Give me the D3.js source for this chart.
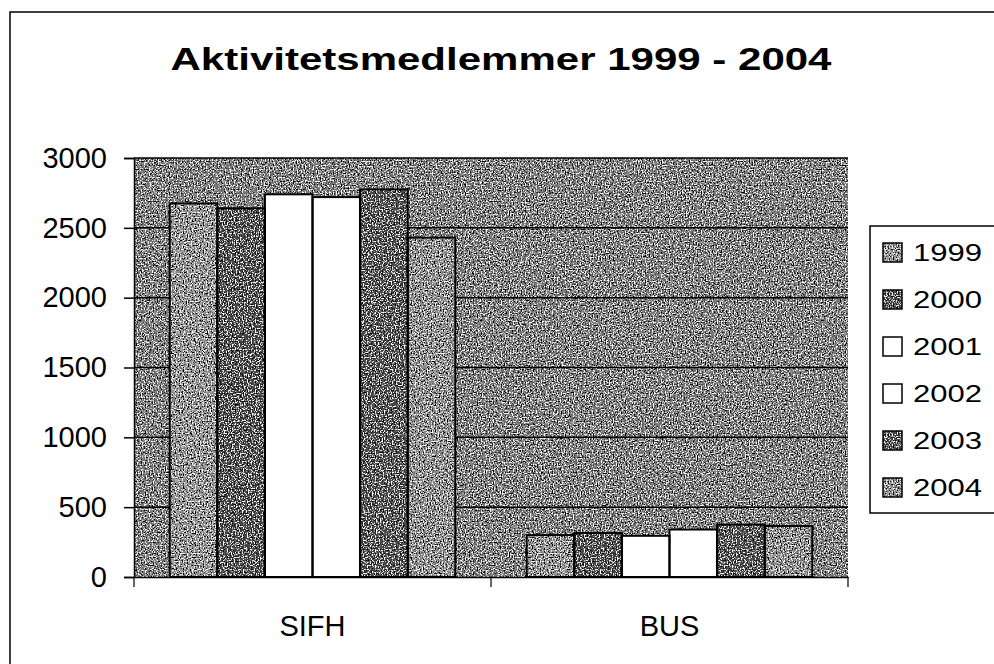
<!DOCTYPE html>
<html>
<head>
<meta charset="utf-8">
<script src="https://cdn.jsdelivr.net/npm/d3@7"></script>
<style>
  body { margin: 0; background: #fff; }
  text { font-family: "Liberation Sans", Arial, sans-serif; fill: #000; }
</style>
</head>
<body>
<div id="chart"></div>
<script>
// Data
var categories = ["SIFH", "BUS"];
var years = ["1999", "2000", "2001", "2002", "2003", "2004"];
var sifhValues = [2675, 2640, 2740, 2720, 2775, 2430];
var busValues = [300, 315, 295, 340, 375, 365];
var yTicks = [0, 500, 1000, 1500, 2000, 2500, 3000];

var seriesValues = { "SIFH": sifhValues, "BUS": busValues };

// Year fills (scanned greys)
var yearColor = d3.scaleOrdinal()
	.domain(years)
	.range(["#929292", "#4a4a4a", "#ffffff", "#ffffff", "#4e4e4e", "#8c8c8c"]);
var grainy = { "1999": true, "2000": true, "2001": false, "2002": false, "2003": true, "2004": true };

var width = 994, height = 664;
var plot = { left: 134, right: 848, top: 158, bottom: 577 };

var svg = d3.select("#chart").append("svg")
	.attr("width", width)
	.attr("height", height);

// grain filter to imitate the dithered scan
var defs = svg.append("defs");
var grain = defs.append("filter").attr("id", "grain")
	.attr("x", 0).attr("y", 0).attr("width", "100%").attr("height", "100%");
grain.append("feTurbulence")
	.attr("type", "fractalNoise").attr("baseFrequency", 0.75)
	.attr("numOctaves", 1).attr("seed", 4).attr("result", "noise");
grain.append("feColorMatrix").attr("in", "noise").attr("type", "matrix")
	.attr("values", "0 0 0 0 0  0 0 0 0 0  0 0 0 0 0  9 0 0 0 -4.8")
	.attr("result", "darkDots");
grain.append("feColorMatrix").attr("in", "noise").attr("type", "matrix")
	.attr("values", "0 0 0 0 1  0 0 0 0 1  0 0 0 0 1  -9 0 0 0 4.2")
	.attr("result", "lightDots");
grain.append("feComposite").attr("in", "darkDots").attr("in2", "SourceGraphic")
	.attr("operator", "in").attr("result", "dark");
grain.append("feComposite").attr("in", "lightDots").attr("in2", "SourceGraphic")
	.attr("operator", "in").attr("result", "light");
var merge = grain.append("feMerge");
merge.append("feMergeNode").attr("in", "SourceGraphic");
merge.append("feMergeNode").attr("in", "dark");
merge.append("feMergeNode").attr("in", "light");

// outer chart frame (runs off the right/bottom of the scan)
svg.append("rect")
	.attr("x", 10).attr("y", 12)
	.attr("width", 1100).attr("height", 800)
	.style("fill", "none").style("stroke", "#000").style("stroke-width", 1.5);

// Title
svg.append("text")
	.attr("x", 501).attr("y", 70)
	.attr("text-anchor", "middle")
	.attr("textLength", 661).attr("lengthAdjust", "spacingAndGlyphs")
	.style("font-size", "31px").style("font-weight", 700)
	.text("Aktivitetsmedlemmer 1999 - 2004");

// Scales
var x0 = d3.scaleBand().domain(categories).range([plot.left, plot.right]);
var gap = x0.bandwidth() * 0.2;
var x1 = d3.scaleBand().domain(years).range([gap / 2, x0.bandwidth() - gap / 2]);
var y = d3.scaleLinear().domain([0, 3000]).range([plot.bottom, plot.top]);

// Plot area
svg.append("rect")
	.attr("x", plot.left).attr("y", plot.top)
	.attr("width", plot.right - plot.left).attr("height", plot.bottom - plot.top)
	.style("fill", "#7a7a7a")
	.attr("filter", "url(#grain)");

// Gridlines
svg.selectAll(".grid")
	.data(yTicks.slice(1))
	.enter().append("line")
		.attr("class", "grid")
		.attr("x1", plot.left).attr("x2", plot.right)
		.attr("y1", function(d) { return y(d); })
		.attr("y2", function(d) { return y(d); })
		.style("stroke", "#000").style("stroke-width", 1.5);

// Bars
var groups = svg.selectAll(".cat")
	.data(categories)
	.enter().append("g")
		.attr("class", "cat")
		.attr("transform", function(d) { return "translate(" + x0(d) + ",0)"; });

var barData = function(c) { return years.map(function(yr, i) { return { year: yr, value: seriesValues[c][i] }; }); };

groups.selectAll(".bar")
	.data(barData)
	.enter().append("rect")
		.attr("class", "bar")
		.attr("x", function(d) { return x1(d.year); })
		.attr("y", function(d) { return y(d.value); })
		.attr("width", x1.bandwidth())
		.attr("height", function(d) { return y(0) - y(d.value); })
		.style("fill", function(d) { return yearColor(d.year); })
		.attr("filter", function(d) { return grainy[d.year] ? "url(#grain)" : null; });

groups.selectAll(".outline")
	.data(barData)
	.enter().append("rect")
		.attr("class", "outline")
		.attr("x", function(d) { return x1(d.year); })
		.attr("y", function(d) { return y(d.value); })
		.attr("width", x1.bandwidth())
		.attr("height", function(d) { return y(0) - y(d.value); })
		.style("fill", "none")
		.style("stroke", "#000").style("stroke-width", 2);

// Y axis
var yAxis = svg.append("g")
	.attr("transform", "translate(" + plot.left + ",0)")
	.call(d3.axisLeft(y).tickValues(yTicks).tickFormat(d3.format("d")).tickSize(10).tickPadding(17));
yAxis.select(".domain").style("stroke", "#000").style("stroke-width", 1.5);
yAxis.selectAll(".tick line").style("stroke", "#000").style("stroke-width", 1.5);
yAxis.selectAll("text").style("font-size", "29px");

// X axis
var xAxis = svg.append("g")
	.attr("transform", "translate(0," + plot.bottom + ")")
	.call(d3.axisBottom(x0).tickSize(0).tickPadding(38));
xAxis.select(".domain").style("stroke", "#000").style("stroke-width", 1.5);
xAxis.selectAll("text").style("font-size", "29px");
xAxis.selectAll(".sep")
	.data([plot.left, (plot.left + plot.right) / 2, plot.right])
	.enter().append("line")
		.attr("class", "sep")
		.attr("x1", function(d) { return d; }).attr("x2", function(d) { return d; })
		.attr("y1", 0).attr("y2", 10)
		.style("stroke", "#000").style("stroke-width", 1.2);

// Legend
var legendY = d3.scalePoint().domain(years).range([252, 487]);
svg.append("rect")
	.attr("x", 870).attr("y", 226)
	.attr("width", 200).attr("height", 287)
	.style("fill", "#fff").style("stroke", "#000").style("stroke-width", 1.5);

var legend = svg.selectAll(".legend")
	.data(years)
	.enter().append("g")
		.attr("class", "legend")
		.attr("transform", function(d) { return "translate(0," + legendY(d) + ")"; });
legend.append("rect")
	.attr("x", 883).attr("y", -9)
	.attr("width", 19).attr("height", 19)
	.style("fill", function(d) { return yearColor(d); })
	.attr("filter", function(d) { return grainy[d] ? "url(#grain)" : null; });
legend.append("rect")
	.attr("x", 883).attr("y", -9)
	.attr("width", 19).attr("height", 19)
	.style("fill", "none")
	.style("stroke", "#000").style("stroke-width", 1.5);
legend.append("text")
	.attr("x", 913).attr("y", 0)
	.attr("dy", "0.36em")
	.attr("textLength", 69).attr("lengthAdjust", "spacingAndGlyphs")
	.style("font-size", "24px")
	.text(function(d) { return d; });
</script>
</body>
</html>
